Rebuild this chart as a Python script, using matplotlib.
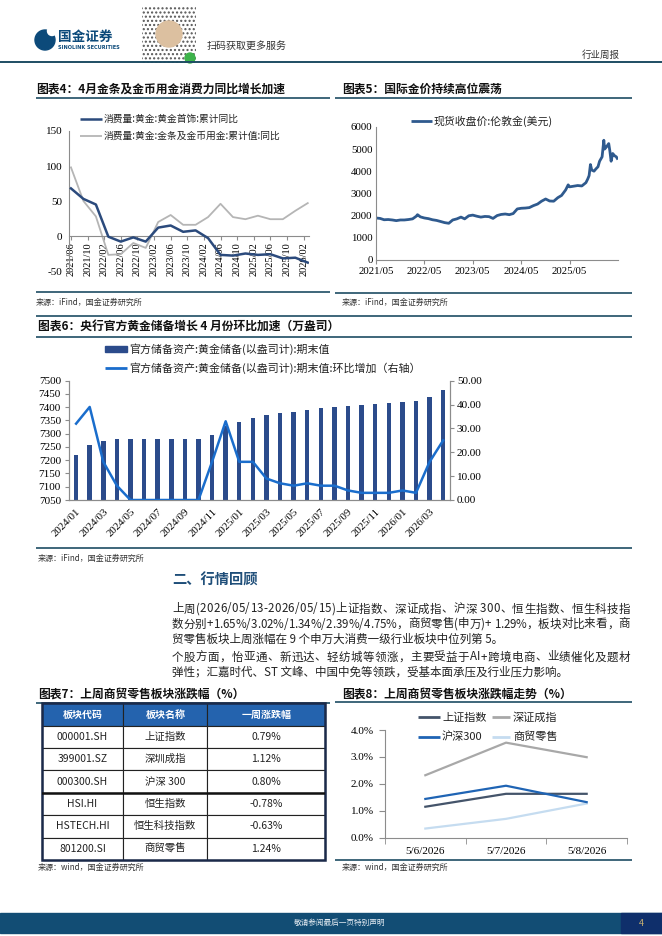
import matplotlib
matplotlib.use('Agg')
import matplotlib.pyplot as plt
from matplotlib.patches import Rectangle, Circle
from matplotlib.font_manager import FontProperties
import pandas as pd
import numpy as np

# ---------------- data ----------------
# Chart 4: quarterly cumulative YoY (%)
c4_periods = ['2021/06', '2021/09', '2021/12', '2022/03', '2022/06', '2022/09', '2022/12',
              '2023/03', '2023/06', '2023/09', '2023/12', '2024/03', '2024/06', '2024/09',
              '2024/12', '2025/03', '2025/06', '2025/09', '2025/12', '2026/03']
c4_jewelry = [68, 53, 45, -1, -8, -2, -8, 12, 15, 6, 8, -3, -27, -28, -25, -27, -26, -32, -31, -38]
c4_barcoin = [98, 50, 28, -27, -26, -10, -17, 20, 30, 16, 16, 27, 46, 27, 24, 29, 24, 24, 36, 47]
c4_ticklabels = ['2021/06', '2021/10', '2022/02', '2022/06', '2022/10', '2023/02', '2023/06',
                 '2023/10', '2024/02', '2024/06', '2024/10', '2025/02', '2025/06', '2025/10', '2026/02']

# Chart 5: London gold spot (USD)
gold_dates = ['2021-05-01', '2021-06-01', '2021-07-01', '2021-08-01', '2021-09-01', '2021-10-01',
              '2021-11-01', '2021-12-01', '2022-01-01', '2022-02-01', '2022-03-01', '2022-03-10',
              '2022-04-01', '2022-05-01', '2022-06-01', '2022-07-01', '2022-08-01', '2022-09-01',
              '2022-10-01', '2022-11-01', '2022-12-01', '2023-01-01', '2023-02-01', '2023-03-01',
              '2023-04-01', '2023-05-01', '2023-06-01', '2023-07-01', '2023-08-01', '2023-09-01',
              '2023-10-01', '2023-11-01', '2023-12-01', '2024-01-01', '2024-02-01', '2024-03-01',
              '2024-04-01', '2024-05-01', '2024-06-01', '2024-07-01', '2024-08-01', '2024-09-01',
              '2024-10-01', '2024-11-01', '2024-12-01', '2025-01-01', '2025-02-01', '2025-03-01',
              '2025-04-01', '2025-04-20', '2025-05-01', '2025-06-01', '2025-07-01', '2025-08-01',
              '2025-09-01', '2025-09-15', '2025-09-25', '2025-10-05', '2025-10-15', '2025-11-01',
              '2025-11-15', '2025-12-01', '2025-12-13', '2026-01-01', '2026-01-14', '2026-01-20',
              '2026-02-03', '2026-02-20', '2026-03-01', '2026-03-10', '2026-03-22', '2026-04-05',
              '2026-04-18', '2026-04-25']
gold_price = [1880, 1860, 1800, 1810, 1790, 1760, 1790, 1790, 1810, 1840, 1960, 2030,
              1930, 1880, 1850, 1800, 1770, 1720, 1670, 1640, 1790, 1840, 1920, 1840,
              1980, 2010, 1960, 1920, 1950, 1940, 1860, 1990, 2040, 2060, 2030, 2080,
              2290, 2320, 2330, 2350, 2440, 2510, 2640, 2740, 2650, 2640, 2800, 2900,
              3150, 3380, 3290, 3320, 3350, 3330, 3480, 3650, 3800, 4300, 4050, 4000,
              4100, 4200, 4450, 4650, 5400, 5000, 5100, 5250, 4900, 4450, 4800, 4700,
              4650, 4580]
c5_ticks = ['2021-05-01', '2022-05-01', '2023-05-01', '2024-05-01', '2025-05-01']

# Chart 6: central bank gold reserves (10k oz)
c6_months = ['2024/01', '2024/02', '2024/03', '2024/04', '2024/05', '2024/06', '2024/07',
             '2024/08', '2024/09', '2024/10', '2024/11', '2024/12', '2025/01', '2025/02',
             '2025/03', '2025/04', '2025/05', '2025/06', '2025/07', '2025/08', '2025/09',
             '2025/10', '2025/11', '2025/12', '2026/01', '2026/02', '2026/03', '2026/04']
c6_reserve = [7219, 7258, 7274, 7280, 7280, 7280, 7280, 7280, 7280, 7280, 7296, 7329, 7345, 7361,
              7370, 7377, 7383, 7390, 7396, 7402, 7406, 7409, 7412, 7415, 7419, 7422, 7438, 7464]
c6_mom = [32, 39, 16, 6, 0, 0, 0, 0, 0, 0, 16, 33, 16, 16, 9, 7, 6, 7, 6, 6, 4, 3, 3, 3, 4, 3, 16, 25]

# Table 7
t7_headers = ['板块代码', '板块名称', '一周涨跌幅']
t7_codes = ['000001.SH', '399001.SZ', '000300.SH', 'HSI.HI', 'HSTECH.HI', '801200.SI']
t7_names = ['上证指数', '深圳成指', '沪深 300', '恒生指数', '恒生科技指数', '商贸零售']
t7_change = [0.79, 1.12, 0.80, -0.78, -0.63, 1.24]

# Chart 8
c8_dates = ['5/6/2026', '5/7/2026', '5/8/2026']
c8_sh = [1.15, 1.63, 1.63]
c8_sz = [2.32, 3.53, 2.99]
c8_hs300 = [1.44, 1.93, 1.32]
c8_retail = [0.34, 0.70, 1.27]

para_lines = [
    '上周(2026/05/13-2026/05/15)上证指数、深证成指、沪深 300、恒生指数、恒生科技指',
    '数分别+1.65%/3.02%/1.34%/2.39%/4.75%，商贸零售(申万)+ 1.29%，板块对比来看，商',
    '贸零售板块上周涨幅在 9 个申万大消费一级行业板块中位列第 5。',
    '个股方面，怡亚通、新迅达、轻纺城等领涨，主要受益于AI+跨境电商、业绩催化及题材',
    '弹性；汇嘉时代、ST 文峰、中国中免等领跌，受基本面承压及行业压力影响。',
]
para_justify = [True, True, False, True, False]

# ---------------- style ----------------
W, H = 662, 936
CJK = ['Noto Sans CJK SC', 'DejaVu Sans']
SERIF = ['Liberation Serif', 'DejaVu Serif']
TEAL = '#1e4d63'
NAVY = '#0c4a7a'
AXC = '#8c8c8c'

fig = plt.figure(figsize=(W / 100, H / 100), dpi=100)
page = fig.add_axes([0, 0, 1, 1])
page.set_xlim(0, W)
page.set_ylim(H, 0)
page.axis('off')
renderer = fig.canvas.get_renderer()


def add_ax(x0, y0, x1, y1):
    a = fig.add_axes([x0 / W, 1 - y1 / H, (x1 - x0) / W, (y1 - y0) / H])
    a.patch.set_alpha(0)
    return a


def T(x, y, s, size, color='#222222', weight='normal', ha='left', va='center', fam=CJK):
    page.text(x, y, s, fontsize=size, color=color, fontweight=weight, ha=ha, va=va, family=fam)


def TJ(x0, x1, y, s, size, color='#222222'):
    fp = FontProperties(family=CJK, size=size)
    widths = [renderer.get_text_width_height_descent(ch, fp, ismath=False)[0] for ch in s]
    extra = (x1 - x0 - sum(widths)) / max(len(s) - 1, 1)
    x = x0
    for ch, w in zip(s, widths):
        page.text(x, y, ch, fontproperties=fp, color=color, ha='left', va='center')
        x += w + extra


def HL(x0, x1, y, color=TEAL, lw=1.2):
    page.plot([x0, x1], [y, y], color=color, lw=lw, solid_capstyle='butt')


def LEG(x0, x1, y, color, lw):
    page.plot([x0, x1], [y, y], color=color, lw=lw, solid_capstyle='butt')


# ---------------- header ----------------
page.add_patch(Circle((45, 40), 10, color=NAVY))
page.add_patch(Circle((52, 31), 4.5, color='white'))
T(58, 37, '国金证券', 9.8, color=NAVY, weight='bold')
T(58, 47.5, 'SINOLINK SECURITIES', 3.6, color=NAVY, weight='bold', fam=['DejaVu Sans'])
page.add_patch(Rectangle((142, 7), 54, 56, facecolor='white', edgecolor='#555555', hatch='....', lw=0))
page.add_patch(Circle((169, 34), 13, color='#dcc0a0'))
page.add_patch(Circle((190, 58), 5, color='#3db34a'))
T(207, 46, '扫码获取更多服务', 7.2, color='#333333')
T(620, 55, '行业周报', 6.8, color='#333333', ha='right')
HL(0, 662, 62, lw=1.4)

# ---------------- chart 4 ----------------
T(36, 89, '图表4：4月金条及金币用金消费力同比增长加速', 8.5, weight='bold', color='#111111')
HL(36, 330, 98)
ax4 = add_ax(69.3, 131, 309, 271)
m4 = [(int(p[:4]) - 2021) * 12 + int(p[5:]) - 6 for p in c4_periods]
tk4 = [(int(p[:4]) - 2021) * 12 + int(p[5:]) - 6 for p in c4_ticklabels]
ax4.plot(m4, c4_barcoin, color='#b5b5b5', lw=1.3, zorder=2)
ax4.plot(m4, c4_jewelry, color='#2b4a7c', lw=1.8, zorder=3)
ax4.set_xlim(-0.4, 57.3)
ax4.set_ylim(-50, 150)
for s in ['top', 'right']:
    ax4.spines[s].set_visible(False)
ax4.spines['left'].set_color(AXC)
ax4.spines['bottom'].set_color(AXC)
ax4.spines['bottom'].set_position(('data', 0))
ax4.set_xticks(tk4)
ax4.set_xticklabels(c4_ticklabels, rotation=90, fontsize=7.5, family=SERIF)
ax4.set_yticks([-50, 0, 50, 100, 150])
ax4.set_yticklabels(['-50', '0', '50', '100', '150'], fontsize=8, family=SERIF)
ax4.tick_params(axis='x', length=3, pad=1.5, color=AXC)
ax4.tick_params(axis='y', length=0, pad=5)
LEG(80, 102, 119, '#2b4a7c', 1.8)
T(104, 119, '消费量:黄金:黄金首饰:累计同比', 7)
LEG(80, 102, 136, '#b5b5b5', 1.3)
T(104, 136, '消费量:黄金:金条及金币用金:累计值:同比', 7)
HL(36, 330, 292)
T(36, 302, '来源：iFind，国金证券研究所', 5.8, color='#333333')

# ---------------- chart 5 ----------------
T(342, 89, '图表5：国际金价持续高位震荡', 8.5, weight='bold', color='#111111')
HL(335, 632, 98)
ax5 = add_ax(376, 127, 618, 259.5)
ax5.plot(pd.to_datetime(gold_dates), gold_price, color='#2f5a8e', lw=2.0)
ax5.set_xlim(pd.Timestamp('2021-05-01'), pd.Timestamp('2026-05-01'))
ax5.set_ylim(0, 6000)
ax5.set_yticks(range(0, 6001, 1000))
ax5.set_yticklabels([str(v) for v in range(0, 6001, 1000)], fontsize=7.8, family=SERIF)
ax5.set_xticks(pd.to_datetime(c5_ticks))
ax5.set_xticklabels([d[:4] + '/' + d[5:7] for d in c5_ticks], fontsize=7.8, family=SERIF)
for s in ['top', 'right']:
    ax5.spines[s].set_visible(False)
ax5.spines['left'].set_color(AXC)
ax5.spines['bottom'].set_color(AXC)
ax5.tick_params(axis='x', length=3, pad=2.5, color=AXC)
ax5.tick_params(axis='y', length=0, pad=2.5)
LEG(411, 432, 121, '#2f5a8e', 2)
T(434, 121, '现货收盘价:伦敦金(美元)', 7.8)
HL(335, 632, 293)
T(342, 302, '来源：iFind，国金证券研究所', 5.8, color='#333333')

# ---------------- chart 6 ----------------
HL(36, 632, 316)
T(38, 327, '图表6：央行官方黄金储备增长 4 月份环比加速（万盎司）', 8.5, weight='bold', color='#111111')
HL(36, 632, 337)
ax6 = add_ax(69.3, 380.7, 450, 500)
x6 = np.arange(len(c6_months))
ax6.bar(x6, c6_reserve, width=0.33, color='#2b4b8b', zorder=2)
ax6.set_xlim(-0.5, len(c6_months) - 0.5)
ax6.set_ylim(7050, 7500)
ax6.set_yticks(range(7050, 7501, 50))
ax6.set_yticklabels([str(v) for v in range(7050, 7501, 50)], fontsize=8, family=SERIF)
ax6.set_xticks(x6[::2])
ax6.set_xticklabels(c6_months[::2], rotation=45, ha='right', va='top', rotation_mode='anchor',
                    fontsize=7.8, family=SERIF)
ax6.tick_params(axis='x', length=0, pad=5)
ax6.tick_params(axis='y', length=3, pad=3, color=AXC)
ax6.spines['top'].set_visible(False)
for s in ['left', 'bottom', 'right']:
    ax6.spines[s].set_color(AXC)
ax6b = ax6.twinx()
ax6b.patch.set_alpha(0)
ax6b.plot(x6, c6_mom, color='#1a6dcc', lw=1.8, zorder=3)
ax6b.set_ylim(0, 50)
ax6b.set_yticks(range(0, 51, 10))
ax6b.set_yticklabels(['%.2f' % v for v in range(0, 51, 10)], fontsize=8, family=SERIF)
ax6b.tick_params(axis='y', length=3, pad=2, color=AXC)
ax6b.spines['top'].set_visible(False)
for s in ['left', 'bottom', 'right']:
    ax6b.spines[s].set_color(AXC)
page.add_patch(Rectangle((105, 346.3), 22, 6, color='#2b4b8b'))
T(129, 349.3, '官方储备资产:黄金储备(以盎司计):期末值', 7.9)
LEG(105, 127, 368.3, '#1a6dcc', 2)
T(129, 368.3, '官方储备资产:黄金储备(以盎司计):期末值:环比增加（右轴）', 7.9)
HL(36, 632, 548)
T(38, 558, '来源：iFind，国金证券研究所', 5.8, color='#333333')

# ---------------- text section ----------------
T(172, 580, '二、行情回顾', 10.3, weight='bold', color='#1f4e79')
for yy, line, just in zip([609, 624, 639, 657, 672], para_lines, para_justify):
    if just:
        TJ(172, 630, yy, line, 8.3)
    else:
        T(172, yy, line, 8.3, color='#222222')

# ---------------- table 7 ----------------
T(38, 694, '图表7：上周商贸零售板块涨跌幅（%）', 8.5, weight='bold', color='#111111')
HL(36, 330, 702.5)
tax = add_ax(41.7, 703.3, 325, 860)
tax.axis('off')
rows = [[c, n, '%.2f%%' % v] for c, n, v in zip(t7_codes, t7_names, t7_change)]
tbl = tax.table(cellText=rows, colLabels=t7_headers, cellLoc='center',
                colWidths=[81.6, 84.0, 117.7], bbox=[0, 0, 1, 1])
tbl.auto_set_font_size(False)
for (r, c), cell in tbl.get_celld().items():
    cell.set_edgecolor('#222222')
    cell.set_linewidth(0.8)
    txt = cell.get_text()
    txt.set_family(CJK)
    if r == 0:
        cell.set_facecolor('#2463ae')
        txt.set_color('white')
        txt.set_fontweight('bold')
        txt.set_fontsize(7.2)
    else:
        txt.set_color('#222222')
        txt.set_fontsize(7.5)
tax.add_patch(Rectangle((0, 0), 1, 1, transform=tax.transAxes, fill=False, lw=1.8,
                        edgecolor='#1b2a4a', clip_on=False, zorder=5))
tax.axhline(3 / 7, color='#111111', lw=1.8, zorder=5)
T(38, 867, '来源：wind，国金证券研究所', 5.8, color='#333333')

# ---------------- chart 8 ----------------
T(342, 694, '图表8：上周商贸零售板块涨跌幅走势（%）', 8.5, weight='bold', color='#111111')
HL(335, 632, 702)
ax8 = add_ax(385, 730, 627, 837.7)
x8 = np.arange(len(c8_dates))
col_sh, col_sz, col_hs, col_rt = '#44546a', '#a8a8a8', '#1f64b4', '#c5dcf0'
ax8.plot(x8, c8_sz, color=col_sz, lw=1.6)
ax8.plot(x8, c8_retail, color=col_rt, lw=1.6)
ax8.plot(x8, c8_sh, color=col_sh, lw=1.6)
ax8.plot(x8, c8_hs300, color=col_hs, lw=1.6)
ax8.set_xlim(-0.5, 2.5)
ax8.set_ylim(0, 4)
ax8.set_yticks([0, 1, 2, 3, 4])
ax8.set_yticklabels(['%.1f%%' % v for v in [0, 1, 2, 3, 4]], fontsize=8, family=SERIF)
ax8.set_xticks(x8)
ax8.set_xticklabels(c8_dates, fontsize=8, family=SERIF)
ax8.set_xticks([-0.5, 0.5, 1.5, 2.5], minor=True)
ax8.tick_params(axis='x', which='major', length=0, pad=7)
ax8.tick_params(axis='x', which='minor', length=4, color=AXC)
ax8.tick_params(axis='y', length=4, pad=4, color=AXC)
for s in ['top', 'right']:
    ax8.spines[s].set_visible(False)
ax8.spines['left'].set_color(AXC)
ax8.spines['bottom'].set_color(AXC)
LEG(417.7, 440, 717.3, col_sh, 2)
T(442, 717.3, '上证指数', 8)
LEG(491.7, 510, 717.3, col_sz, 2)
T(513, 717.3, '深证成指', 8)
LEG(417.7, 440, 736.7, col_hs, 2)
T(442, 736.7, '沪深300', 8)
LEG(491.7, 510, 736.7, col_rt, 2)
T(513, 736.7, '商贸零售', 8)
HL(335, 632, 860)
T(342, 867, '来源：wind，国金证券研究所', 5.8, color='#333333')

# ---------------- footer ----------------
page.add_patch(Rectangle((0, 913), 662, 20, color='#124d74'))
page.add_patch(Rectangle((621, 913), 41, 20, color='#0f2f6b'))
T(340, 923, '敬请参阅最后一页特别声明', 5.5, color='#e8eef4', ha='center')
T(641, 923, '4', 6.5, color='#c8b070', ha='center')

fig.savefig('out.png', dpi=100)
